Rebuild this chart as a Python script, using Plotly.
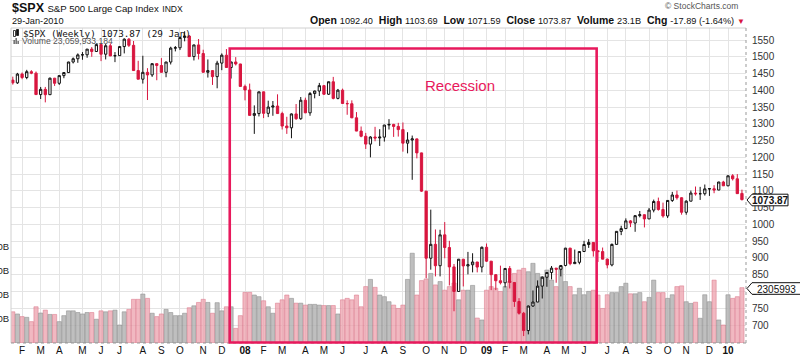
import plotly.graph_objects as go
import pandas as pd

# ---------------- data (weekly $SPX, week of 22-Jan-2007 .. week of 25-Jan-2010) ----------------
first_week = "2007-01-22"
n_weeks = 158
week_dates = pd.date_range(first_week, periods=n_weeks, freq="7D")

closes = [
    1422.2, 1448.4, 1438.1, 1455.5, 1451.2, 1387.2, 1402.8, 1386.9, 1436.1, 1420.9,
    1443.8, 1452.9, 1484.4, 1494.1, 1505.6, 1505.9, 1522.8, 1515.7, 1536.3, 1507.7,
    1532.9, 1502.6, 1503.4, 1530.4, 1552.5, 1534.1, 1458.9, 1433.1, 1453.6, 1445.9,
    1479.4, 1474.0, 1453.6, 1484.3, 1525.8, 1526.8, 1557.6, 1561.8, 1500.6, 1535.3,
    1509.7, 1453.7, 1458.7, 1440.7, 1481.1, 1504.7, 1468.0, 1484.5, 1478.5, 1411.6,
    1401.0, 1325.2, 1330.6, 1395.4, 1331.3, 1350.0, 1353.1, 1330.6, 1293.4, 1288.1,
    1329.5, 1315.2, 1370.4, 1332.8, 1390.3, 1397.8, 1413.9, 1388.3, 1425.4, 1375.9,
    1400.4, 1360.7, 1360.0, 1317.9, 1278.4, 1262.9, 1239.5, 1260.7, 1257.8, 1260.3,
    1296.3, 1298.2, 1292.2, 1282.8, 1242.3, 1251.7, 1255.1, 1213.3, 1099.2, 899.2,
    940.6, 876.8, 968.8, 931.0, 873.3, 800.0, 896.2, 876.1, 879.7, 887.9,
    872.8, 931.8,
    890.4, 850.1, 832.0, 825.9, 868.6, 826.8, 770.1, 735.1, 683.4, 756.6,
    768.5, 815.9, 842.5, 856.6, 869.6, 866.2, 877.5, 929.2, 882.9, 887.0,
    919.1, 940.1, 946.2, 921.2, 918.9, 896.4, 879.1, 940.4, 979.3, 987.5,
    1010.5, 1004.1, 1026.1, 1028.9, 1016.4, 1042.7, 1068.3, 1044.4, 1025.2, 1071.5,
    1087.7, 1079.6, 1036.2, 1069.3, 1093.5, 1091.4, 1091.5, 1106.0, 1106.4, 1102.5,
    1126.5, 1115.1,
    1145.0, 1136.0, 1091.8, 1073.87,
]

opens = [
    1430.5, 1422.2, 1448.4, 1438.1, 1455.5, 1451.2, 1387.2, 1402.8, 1386.9, 1436.1,
    1420.9, 1443.8, 1452.9, 1484.4, 1494.1, 1505.6, 1505.9, 1522.8, 1515.7, 1536.3,
    1507.7, 1532.9, 1502.6, 1503.4, 1530.4, 1552.5, 1534.1, 1458.9, 1433.1, 1453.6,
    1445.9, 1479.4, 1474.0, 1453.6, 1484.3, 1525.8, 1526.8, 1557.6, 1561.8, 1500.6,
    1535.3, 1509.7, 1453.7, 1458.7, 1440.7, 1481.1, 1504.7, 1468.0, 1484.5, 1478.5,
    1411.6, 1401.0, 1325.2, 1330.6, 1395.4, 1331.3, 1350.0, 1353.1, 1330.6, 1293.4,
    1288.1, 1329.5, 1315.2, 1370.4, 1332.8, 1390.3, 1397.8, 1413.9, 1388.3, 1425.4,
    1375.9, 1400.4, 1360.7, 1360.0, 1317.9, 1278.4, 1262.9, 1239.5, 1260.7, 1257.8,
    1260.3, 1296.3, 1298.2, 1292.2, 1282.8, 1242.3, 1251.7, 1255.1, 1213.3, 1099.2,
    899.2, 940.6, 876.8, 968.8, 931.0, 873.3, 800.0, 896.2, 876.1, 879.7,
    887.9, 872.8,
    931.8, 890.4, 850.1, 832.0, 825.9, 868.6, 826.8, 770.1, 735.1, 683.4,
    756.6, 768.5, 815.9, 842.5, 856.6, 869.6, 866.2, 877.5, 929.2, 882.9,
    887.0, 919.1, 940.1, 946.2, 921.2, 918.9, 896.4, 879.1, 940.4, 979.3,
    987.5, 1010.5, 1004.1, 1026.1, 1028.9, 1016.4, 1042.7, 1068.3, 1044.4, 1025.2,
    1071.5, 1087.7, 1079.6, 1036.2, 1069.3, 1093.5, 1091.4, 1091.5, 1106.0, 1106.4,
    1102.5, 1126.5,
    1115.1, 1145.0, 1136.0, 1092.40,
]

highs = [
    1440.7, 1452.0, 1453.0, 1461.0, 1460.0, 1456.0, 1410.0, 1410.0, 1438.0, 1437.0,
    1445.0, 1453.0, 1485.0, 1498.0, 1510.0, 1514.0, 1523.0, 1529.0, 1540.0, 1540.0,
    1538.0, 1540.0, 1514.0, 1532.0, 1555.0, 1556.0, 1547.0, 1488.0, 1503.0, 1466.0,
    1480.0, 1481.0, 1496.0, 1485.0, 1530.0, 1532.0, 1561.0, 1576.0, 1565.0, 1536.0,
    1553.0, 1521.0, 1492.0, 1460.0, 1488.0, 1510.0, 1523.0, 1485.0, 1499.0, 1479.0,
    1417.0, 1420.0, 1355.0, 1396.0, 1396.0, 1369.0, 1368.0, 1388.0, 1336.0, 1321.0,
    1331.0, 1359.0, 1380.0, 1378.0, 1395.0, 1399.0, 1422.0, 1416.0, 1426.0, 1440.0,
    1404.0, 1405.0, 1370.0, 1370.0, 1335.0, 1292.0, 1273.0, 1263.0, 1291.0, 1284.0,
    1297.0, 1314.0, 1300.0, 1303.0, 1304.0, 1275.0, 1265.0, 1256.0, 1214.0, 1100.0,
    1044.0, 985.0, 984.0, 1007.0, 951.0, 882.0, 897.0, 896.0, 918.0, 914.0,
    888.0, 934.0,
    943.0, 890.0, 851.0, 877.0, 870.0, 876.0, 827.0, 780.0, 739.0, 758.0,
    803.0, 833.0, 845.0, 857.0, 876.0, 870.0, 878.0, 930.0, 930.0, 925.0,
    920.0, 951.0, 956.0, 947.0, 922.0, 931.0, 898.0, 943.0, 980.0, 996.0,
    1018.0, 1013.0, 1027.0, 1040.0, 1030.0, 1049.0, 1074.0, 1080.0, 1065.0, 1072.0,
    1097.0, 1101.0, 1081.0, 1072.0, 1101.0, 1113.0, 1112.0, 1119.0, 1107.0, 1117.0,
    1127.0, 1130.0,
    1146.0, 1150.0, 1150.0, 1103.69,
]

lows = [
    1417.0, 1419.0, 1433.0, 1433.0, 1448.0, 1386.0, 1374.0, 1364.0, 1386.0, 1413.0,
    1416.0, 1436.0, 1452.0, 1480.0, 1482.0, 1491.0, 1497.0, 1500.0, 1515.0, 1487.0,
    1492.0, 1502.0, 1484.0, 1503.0, 1510.0, 1529.0, 1458.0, 1433.0, 1420.0, 1371.0,
    1440.0, 1430.0, 1453.0, 1439.0, 1477.0, 1516.0, 1520.0, 1546.0, 1500.0, 1489.0,
    1492.0, 1453.0, 1438.0, 1416.0, 1406.0, 1460.0, 1467.0, 1435.0, 1474.0, 1411.0,
    1370.0, 1325.0, 1270.0, 1322.0, 1317.0, 1320.0, 1324.0, 1330.0, 1283.0, 1270.0,
    1257.0, 1312.0, 1312.0, 1332.0, 1324.0, 1376.0, 1383.0, 1386.0, 1386.0, 1373.0,
    1373.0, 1360.0, 1327.0, 1317.0, 1278.0, 1260.0, 1225.0, 1200.0, 1248.0, 1234.0,
    1247.0, 1283.0, 1261.0, 1262.0, 1217.0, 1212.0, 1133.0, 1197.0, 1097.0, 840.0,
    865.0, 845.0, 845.0, 899.0, 818.0, 741.0, 800.0, 815.0, 851.0, 857.0,
    857.0, 857.0,
    888.0, 804.0, 804.0, 821.0, 812.0, 809.0, 754.0, 731.0, 667.0, 672.0,
    754.0, 768.0, 779.0, 814.0, 836.0, 826.0, 845.0, 875.0, 878.0, 882.0,
    881.0, 919.0, 930.0, 904.0, 888.0, 896.0, 869.0, 875.0, 940.0, 968.0,
    987.0, 992.0, 978.0, 1021.0, 991.0, 1016.0, 1036.0, 1041.0, 1020.0, 1019.0,
    1067.0, 1074.0, 1029.0, 1029.0, 1069.0, 1086.0, 1073.0, 1086.0, 1085.0, 1093.0,
    1102.0, 1115.0,
    1114.0, 1131.0, 1091.0, 1071.59,
]

# weekly volume in billions of shares
volumes_b = [
    13.0, 12.1, 11.0, 10.7, 8.9, 15.1, 12.5, 13.7, 11.9, 11.9,
    8.9, 11.4, 13.4, 13.4, 12.7, 12.1, 12.7, 12.7, 9.9, 13.4,
    13.0, 13.4, 13.7, 7.5, 13.0, 14.0, 18.2, 18.2, 20.4, 18.6,
    12.4, 11.0, 12.1, 14.0, 12.7, 11.4, 11.4, 12.4, 14.7, 15.5,
    16.9, 18.2, 16.9, 12.4, 16.8, 13.4, 15.1, 15.1, 6.1, 11.4,
    21.1, 21.1, 20.0, 19.3, 17.6, 15.1, 12.4, 16.6, 18.0, 20.0,
    18.6, 16.6, 16.6, 15.8, 16.1, 16.1, 15.8, 15.6, 15.6, 15.6,
    12.1, 18.0, 18.6, 18.0, 20.0, 15.1, 23.5, 26.5, 23.2, 20.0,
    19.3, 17.2, 15.8, 14.4, 15.8, 26.5, 37.4, 20.0, 26.0, 26.7,
    29.0, 24.2, 25.6, 22.0, 23.5, 25.0, 18.0, 22.0, 22.0, 24.0,
    10.4, 9.6, 22.0, 23.5, 22.8, 21.5, 23.5, 25.6, 29.0, 30.4,
    31.1, 29.7, 33.2, 29.0, 27.6, 30.4, 26.2, 23.5, 31.8, 25.6,
    23.5, 20.1, 22.8, 20.1, 21.5, 22.0, 20.0, 14.4,
    20.1, 21.0, 21.0, 23.5, 24.9, 20.5, 20.5, 21.0, 17.2, 19.0,
    26.2, 21.0, 21.0, 18.6, 20.1, 23.5, 23.8, 17.2, 16.5, 17.0,
    10.3, 20.1, 17.2, 26.2, 9.6, 7.5, 20.1, 18.6, 19.3, 23.06,
]

price_ticks = [700, 750, 800, 850, 900, 950, 1000, 1050, 1100, 1150,
               1200, 1250, 1300, 1350, 1400, 1450, 1500, 1550]
volume_ticks_b = [10, 20, 30, 40]
volume_tick_labels = ["10B", "20B", "30B", "40B"]
month_letters = ["J", "F", "M", "A", "M", "J", "J", "A", "S", "O", "N", "D"]
recession_start, recession_end = "2007-12-15", "2009-06-20"

# ---------------- geometry helpers (pixel -> paper) ----------------
L, R, T, B = 11, 746, 28, 343
def fx(px):
    return (px - L) / (R - L)
def fy(py):
    return (B - py) / (B - T)

RED = "#D8163F"
REC = "#E8195C"
PINK_FILL = "rgba(236,160,172,0.75)"
PINK_LINE = "rgba(220,120,140,0.9)"
GRAY_FILL = "rgba(175,175,175,0.8)"
GRAY_LINE = "rgba(140,140,140,0.9)"

# month ticks: first Monday of each month
tick_vals, tick_text = [], []
for ms in pd.date_range("2007-02-01", "2010-01-01", freq="MS"):
    d = ms + pd.Timedelta(days=(7 - ms.weekday()) % 7)
    tick_vals.append(d)
    if ms.month == 1:
        tick_text.append("<b>%02d</b>" % (ms.year % 100))
    else:
        tick_text.append(month_letters[ms.month - 1])

down = [c < o for o, c in zip(opens, closes)]

fig = go.Figure()
fig.add_trace(go.Bar(
    x=week_dates, y=[v * 1e9 for v in volumes_b], yaxis="y",
    marker=dict(color=[PINK_FILL if d else GRAY_FILL for d in down],
                line=dict(color=[PINK_LINE if d else GRAY_LINE for d in down], width=0.6)),
    hoverinfo="skip", showlegend=False,
))
fig.add_trace(go.Candlestick(
    x=week_dates, open=opens, high=highs, low=lows, close=closes, yaxis="y2",
    increasing=dict(line=dict(color="#111111", width=1), fillcolor="#ffffff"),
    decreasing=dict(line=dict(color=RED, width=1), fillcolor=RED),
    whiskerwidth=0, showlegend=False,
))

x_left = pd.Timestamp(first_week) - pd.Timedelta(hours=65)
x_right = pd.Timestamp(first_week) + pd.Timedelta(days=1105.1)

fig.update_layout(
    width=800, height=357,
    margin=dict(l=L, r=800 - R, t=T, b=357 - B, pad=0),
    paper_bgcolor="white", plot_bgcolor="white",
    font=dict(family="Liberation Sans, Arial, sans-serif", color="#222"),
    bargap=0.1, boxgap=0.3,
    showlegend=False,
    xaxis=dict(type="date", range=[x_left, x_right], tickvals=tick_vals, ticktext=tick_text,
               showgrid=True, gridcolor="#e4e4e4", gridwidth=1, ticks="", zeroline=False,
               showline=False, tickfont=dict(size=10, color="#111"), automargin=False,
               rangeslider=dict(visible=False), fixedrange=True),
    yaxis=dict(range=[0, 131.25e9], side="left", tickvals=[v * 1e9 for v in volume_ticks_b],
               ticktext=volume_tick_labels, showgrid=False, zeroline=False, ticks="",
               tickfont=dict(size=9.5, color="#222"), automargin=False, ticklabelstandoff=1),
    yaxis2=dict(range=[646.3, 1585.8], overlaying="y", side="right", tickvals=price_ticks,
                showgrid=True, gridcolor="#e4e4e4", gridwidth=1, zeroline=False, ticks="",
                tickfont=dict(size=10, color="#333"), automargin=False, ticklabelstandoff=5),
)

shapes = [
    # plot frame (left/top light)
    dict(type="line", xref="paper", yref="paper", x0=0, x1=0, y0=0, y1=1,
         line=dict(color="#d0d0d0", width=1)),
    dict(type="line", xref="paper", yref="paper", x0=0, x1=1, y0=1, y1=1,
         line=dict(color="#d0d0d0", width=1)),
    # dotted right axis and bottom axis
    dict(type="line", xref="paper", yref="paper", x0=1, x1=1, y0=0, y1=1,
         line=dict(color="#999", width=1, dash="dot")),
    dict(type="line", xref="paper", yref="paper", x0=0, x1=1, y0=0, y1=0,
         line=dict(color="#999", width=1, dash="dot")),
    # recession box
    dict(type="rect", xref="x", yref="paper", x0=recession_start, x1=recession_end,
         y0=fy(342.5), y1=fy(48.5), line=dict(color=REC, width=2.6)),
]

def box_path(tip_x, cy, x1, half_h):
    return ("M {a},{b} L {c},{d} L {e},{d} L {e},{f} L {c},{f} Z".format(
        a=fx(tip_x), b=fy(cy), c=fx(tip_x + 5), d=fy(cy - half_h), e=fx(x1), f=fy(cy + half_h)))

shapes.append(dict(type="path", xref="paper", yref="paper", path=box_path(747, 200.0, 788, 5.8),
                   fillcolor="white", line=dict(color="#111", width=1)))
shapes.append(dict(type="path", xref="paper", yref="paper", path=box_path(747, 288.5, 801, 5.8),
                   fillcolor="white", line=dict(color="#111", width=1)))

# tiny legend icons
icon = [(13.5, 30.5, 15.5, 36.5, "#111", "white"), (16.5, 29.5, 18.5, 35.5, "#111", "#111")]
for (a, b, c, d, lc, fc) in icon:
    shapes.append(dict(type="rect", xref="paper", yref="paper", x0=fx(a), x1=fx(c),
                       y0=fy(d), y1=fy(b), line=dict(color=lc, width=0.8), fillcolor=fc))
for (a, h) in [(13.5, 4), (15.5, 6), (17.5, 3)]:
    shapes.append(dict(type="rect", xref="paper", yref="paper", x0=fx(a), x1=fx(a + 1.3),
                       y0=fy(44), y1=fy(44 - h), line=dict(width=0), fillcolor="#555"))

fig.update_layout(shapes=shapes)

ann = []
def add(text, x, y, xanchor="left", size=10, color="#111", family=None, **kw):
    f = dict(size=size, color=color)
    if family:
        f["family"] = family
    ann.append(dict(text=text, x=fx(x), y=fy(y), xref="paper", yref="paper",
                    xanchor=xanchor, yanchor="middle", showarrow=False, font=f, **kw))

add("<b>$SPX</b> <span style='font-size:9.6px'>S&amp;P 500 Large Cap Index</span>"
    " <span style='font-size:8.6px'>INDX</span>", 10, 8, size=12.5, color="#111")
add("29-Jan-2010", 10, 21, size=9.2, color="#111")
add("© StockCharts.com", 740, 6, xanchor="right", size=8.5, color="#555")

hdr = ("<b>Open</b> <span style='font-size:9.2px'>1092.40</span>&nbsp; "
       "<b>High</b> <span style='font-size:9.2px'>1103.69</span>&nbsp; "
       "<b>Low</b> <span style='font-size:9.2px'>1071.59</span>&nbsp; "
       "<b>Close</b> <span style='font-size:9.2px'>1073.87</span>&nbsp; "
       "<b>Volume</b> <span style='font-size:9.2px'>23.1B</span>&nbsp; "
       "<b>Chg</b> <span style='font-size:9.2px'>-17.89 (-1.64%)</span> "
       "<span style='color:#D8163F;font-size:8px'>▼</span>")
add(hdr, 747, 20, xanchor="right", size=10.5, color="#111")

add("$SPX (Weekly) 1073.87 (29 Jan)", 21, 33, size=9.3, color="#111",
    family="DejaVu Sans Mono, monospace")
add("Volume 23,059,933,184", 20, 41, size=8.6, color="#555")
add("Recession", 460, 85, xanchor="center", size=15, color=REC)
add("<b>1073.87</b>", 770, 200.3, xanchor="center", size=10, color="#111")
add("2305993", 776, 289, xanchor="center", size=10, color="#111")

fig.update_layout(annotations=ann)
fig.write_html("out.html", config={"displayModeBar": False},
               post_script="document.body.style.margin='0';document.body.style.overflow='hidden';")
